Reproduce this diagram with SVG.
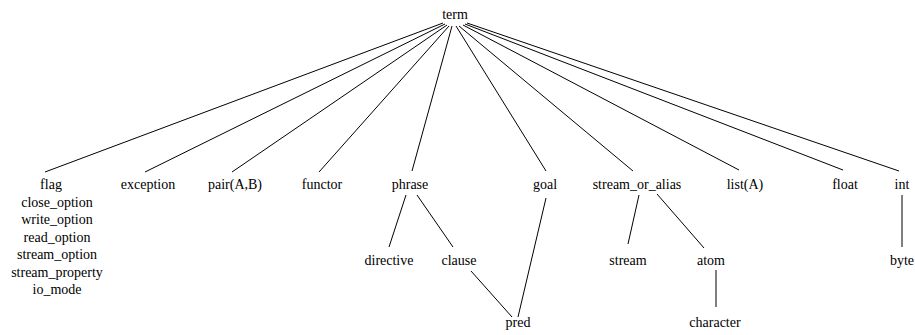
<svg xmlns="http://www.w3.org/2000/svg" width="915" height="335" viewBox="0 0 915 335">
<style>
text{font-family:"Liberation Serif","Times New Roman",Times,serif;font-size:14px;fill:#000;text-anchor:middle}
.e{stroke:#000;stroke-width:1;fill:none}
</style>
<rect width="915" height="335" fill="#fff"/>
<g id="connectors">
<line class="e" x1="443" y1="23" x2="45" y2="172"/>
<line class="e" x1="445" y1="24" x2="145" y2="172"/>
<line class="e" x1="447" y1="25" x2="232" y2="172"/>
<line class="e" x1="449" y1="26" x2="319" y2="172"/>
<line class="e" x1="452" y1="26" x2="412" y2="171"/>
<line class="e" x1="456" y1="26" x2="546" y2="171"/>
<line class="e" x1="459" y1="26" x2="633" y2="171"/>
<line class="e" x1="463" y1="25" x2="739" y2="170"/>
<line class="e" x1="465" y1="24" x2="843" y2="170"/>
<line class="e" x1="467" y1="23" x2="899" y2="171"/>
<line class="e" x1="406" y1="195" x2="389" y2="247"/>
<line class="e" x1="417" y1="195" x2="453" y2="247"/>
<line class="e" x1="471" y1="271" x2="512" y2="317"/>
<line class="e" x1="546" y1="198" x2="518" y2="317"/>
<line class="e" x1="639" y1="195" x2="628" y2="244"/>
<line class="e" x1="657" y1="194" x2="704" y2="248"/>
<line class="e" x1="716" y1="270" x2="716" y2="307"/>
<line class="e" x1="902" y1="195" x2="902" y2="247"/>
</g>
<g font-family="Liberation Serif, Times New Roman, serif">
<g id="term"><text x="455" y="19">term</text></g>
<g id="flag">
<text x="51" y="189">flag</text>
<text x="57" y="206.5">close_option</text>
<text x="57" y="224">write_option</text>
<text x="57" y="241.5">read_option</text>
<text x="57" y="259">stream_option</text>
<text x="57" y="276.5">stream_property</text>
<text x="57" y="294">io_mode</text>
</g>
<g id="exception"><text x="148" y="189">exception</text></g>
<g id="pair"><text x="235" y="189">pair(A,B)</text></g>
<g id="functor"><text x="322" y="189">functor</text></g>
<g id="phrase"><text x="410" y="189">phrase</text></g>
<g id="goal"><text x="545" y="189">goal</text></g>
<g id="stream_or_alias"><text x="637" y="189">stream_or_alias</text></g>
<g id="list"><text x="745" y="189">list(A)</text></g>
<g id="float"><text x="845" y="189">float</text></g>
<g id="int"><text x="902" y="189">int</text></g>
<g id="directive"><text x="389" y="265">directive</text></g>
<g id="clause"><text x="459" y="265">clause</text></g>
<g id="stream"><text x="628" y="265">stream</text></g>
<g id="atom"><text x="711" y="265">atom</text></g>
<g id="byte"><text x="902" y="265">byte</text></g>
<g id="pred"><text x="518" y="327">pred</text></g>
<g id="character"><text x="715" y="327">character</text></g>
</g>
</svg>
